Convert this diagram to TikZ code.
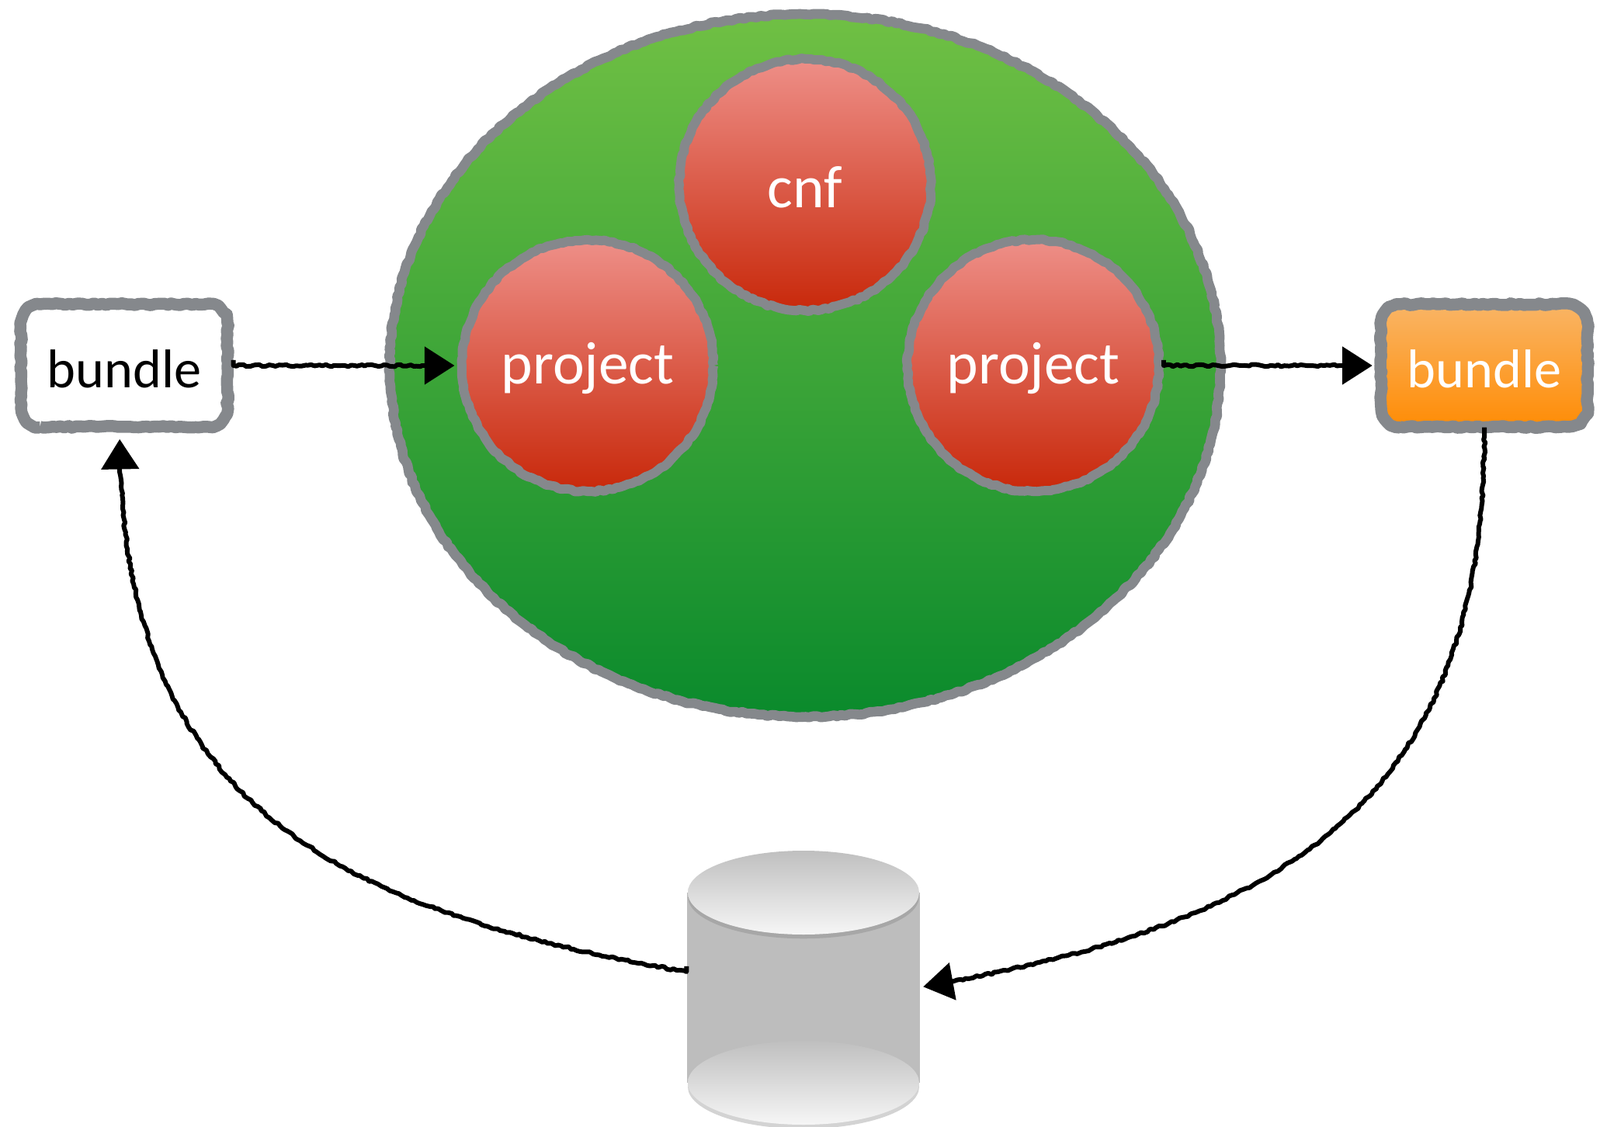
\documentclass[tikz,border=0pt]{standalone}
\usepackage{fontspec}
\setmainfont{Carlito}
\usetikzlibrary{decorations.pathmorphing,arrows.meta,shapes.geometric,shadows}
\definecolor{rim}{HTML}{85888C}
\definecolor{ballTop}{HTML}{EE8F88}
\definecolor{ballBottom}{HTML}{C8280A}
\definecolor{lidTop}{HTML}{BFBFBF}
\definecolor{lidBottom}{HTML}{F6F6F6}
\definecolor{worldTop}{HTML}{70C044}
\definecolor{worldBottom}{HTML}{0A8A2C}
\definecolor{orangeTop}{HTML}{F9B566}
\definecolor{orangeBottom}{HTML}{FF8C05}
\definecolor{body}{HTML}{BDBDBD}
\tikzset{
  rough/.style={decorate, decoration={random steps, segment length=1.5pt, amplitude=0.35pt}},
  sketch/.style={draw=rim, rough, line join=round, inner sep=0pt, font=\fontsize{20}{24}\selectfont},
  world/.style={sketch, ellipse, line width=3.6pt, minimum width=10.70cm, minimum height=9.05cm, top color=worldTop, bottom color=worldBottom},
  ball/.style={sketch, circle, line width=3.4pt, minimum size=3.24cm, text=white, font=\fontsize{22}{26}\selectfont, top color=ballTop, bottom color=ballBottom},
  boxed/.style={inner sep=0pt, outer sep=2.2pt, font=\fontsize{20}{24}\selectfont, minimum width=2.66cm, minimum height=1.58cm, text height=16pt, text depth=0pt},
  conn/.style={draw=black, line width=1.7pt, line join=round, -{Triangle[length=11pt,width=13.6pt]}, shorten >=1pt, shorten <=2pt,
    decorate, decoration={random steps, segment length=1.2pt, amplitude=0.4pt, post=lineto, post length=13pt}},
  lid/.style={ellipse, minimum width=2.98cm, minimum height=1.08cm, inner sep=0pt, top color=lidTop, bottom color=lidBottom, drop shadow={opacity=.35, shadow xshift=0pt, shadow yshift=-1.5pt}}
}
\newcommand{\sketchbox}[2]{
  \draw[sketch, line width=4.4pt, shift={(#1)}, #2] (-1.085,-0.79) -- (1.085,-0.79) arc[start angle=-90, end angle=0, radius=0.245]
    -- (1.33,0.545) arc[start angle=0, end angle=90, radius=0.245]
    -- (-1.085,0.79) arc[start angle=90, end angle=180, radius=0.245]
    -- (-1.33,-0.545) arc[start angle=180, end angle=270, radius=0.245] -- cycle;
}
\begin{document}
\begin{tikzpicture}
  \useasboundingbox (0,0) rectangle (20.61,14.51);
  \node[world] (W) at (10.37,9.80) {};
  \node[ball, above of=W, node distance=2.33cm, text height=17pt, text depth=0pt] (cnf) {cnf};
  \node[ball, left of=W, node distance=2.80cm, text height=18pt, text depth=4.5pt] (projL) {project};
  \node[ball, right of=W, node distance=2.94cm, text height=18pt, text depth=4.5pt] (projR) {project};
  \coordinate[left of=W, node distance=8.77cm] (bundleLc);
  \coordinate[right of=W, node distance=8.75cm] (bundleRc);
  \sketchbox{bundleLc}{fill=white}
  \sketchbox{bundleRc}{top color=orangeTop, bottom color=orangeBottom}
  \node[boxed] (bundleL) at (bundleLc) {bundle};
  \node[boxed, text=white] (bundleR) at (bundleRc) {bundle};
  \node[fill=body, minimum width=3cm, minimum height=2.45cm, inner sep=0pt, below of=W, node distance=8.01cm, xshift=-0.02cm] (db) {};
  \node[lid, below of=db, node distance=1.23cm] (dbBottom) {};
  \node[lid, above of=db, node distance=1.22cm] (dbTop) {};
  \draw[conn] (bundleL.east) -- (projL.west);
  \draw[conn] (projR.east) -- (bundleR.west);
  \draw[conn, shorten >=2.3pt] ([yshift=0.2cm]db.west) to[out=170, in=-90, looseness=1.2] ([xshift=-0.06cm]bundleL.south);
  \draw[conn] (bundleR.south) to[out=-90, in=10, looseness=1.2] (db.east);
\end{tikzpicture}
\end{document}
